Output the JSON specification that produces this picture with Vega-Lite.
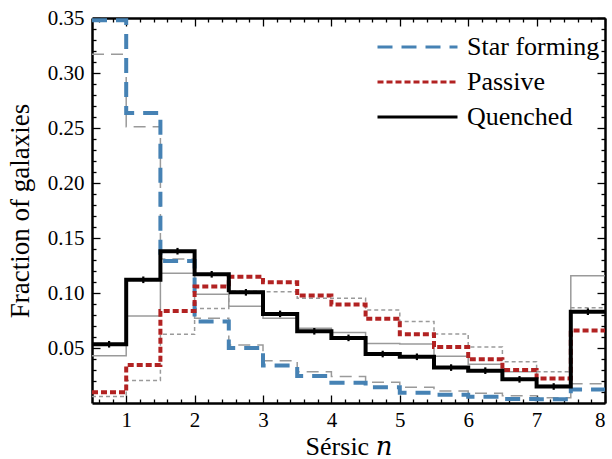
{
  "$schema": "https://vega.github.io/schema/vega-lite/v6.json",
  "width": 513,
  "height": 385,
  "autosize": {"type": "none"},
  "padding": {"left": 92, "top": 18, "right": 7, "bottom": 56},
  "background": "white",
  "config": {
    "view": {"stroke": null},
    "font": "Liberation Serif",
    "style": {
      "guide-label": {"font": "Liberation Serif", "fontSize": 21, "fill": "black"},
      "guide-title": {"font": "Liberation Serif, DejaVu Serif", "fontSize": 26, "fontWeight": "normal", "fill": "black"}
    },
    "axis": {
      "grid": false,
      "domainColor": "black",
      "domainWidth": 2.5,
      "tickColor": "black",
      "tickWidth": 1.3,
      "labelColor": "black",
      "titleColor": "black",
      "labelFont": "Liberation Serif",
      "titleFont": "Liberation Serif, DejaVu Serif",
      "titleFontWeight": "normal",
      "labelFontSize": 21,
      "titleFontSize": 26
    },
    "legend": {
      "labelFont": "Liberation Serif",
      "labelFontSize": 26,
      "labelColor": "black"
    }
  },
  "datasets": {
    "hist": [
      {"s": "Star forming", "set": "main", "lo": 0.5, "hi": 1.0, "f": 0.348},
      {"s": "Star forming", "set": "main", "lo": 1.0, "hi": 1.5, "f": 0.2636},
      {"s": "Star forming", "set": "main", "lo": 1.5, "hi": 2.0, "f": 0.129},
      {"s": "Star forming", "set": "main", "lo": 2.0, "hi": 2.5, "f": 0.074},
      {"s": "Star forming", "set": "main", "lo": 2.5, "hi": 3.0, "f": 0.050},
      {"s": "Star forming", "set": "main", "lo": 3.0, "hi": 3.5, "f": 0.034},
      {"s": "Star forming", "set": "main", "lo": 3.5, "hi": 4.0, "f": 0.0245},
      {"s": "Star forming", "set": "main", "lo": 4.0, "hi": 4.5, "f": 0.0185},
      {"s": "Star forming", "set": "main", "lo": 4.5, "hi": 5.0, "f": 0.0143},
      {"s": "Star forming", "set": "main", "lo": 5.0, "hi": 5.5, "f": 0.0094},
      {"s": "Star forming", "set": "main", "lo": 5.5, "hi": 6.0, "f": 0.0076},
      {"s": "Star forming", "set": "main", "lo": 6.0, "hi": 6.5, "f": 0.0057},
      {"s": "Star forming", "set": "main", "lo": 6.5, "hi": 7.0, "f": 0.0036},
      {"s": "Star forming", "set": "main", "lo": 7.0, "hi": 7.5, "f": 0.0033},
      {"s": "Star forming", "set": "main", "lo": 7.5, "hi": 8.0, "f": 0.0122},

      {"s": "Passive", "set": "main", "lo": 0.5, "hi": 1.0, "f": 0.0097},
      {"s": "Passive", "set": "main", "lo": 1.0, "hi": 1.5, "f": 0.0345},
      {"s": "Passive", "set": "main", "lo": 1.5, "hi": 2.0, "f": 0.0836},
      {"s": "Passive", "set": "main", "lo": 2.0, "hi": 2.5, "f": 0.1058},
      {"s": "Passive", "set": "main", "lo": 2.5, "hi": 3.0, "f": 0.1148},
      {"s": "Passive", "set": "main", "lo": 3.0, "hi": 3.5, "f": 0.1097},
      {"s": "Passive", "set": "main", "lo": 3.5, "hi": 4.0, "f": 0.0978},
      {"s": "Passive", "set": "main", "lo": 4.0, "hi": 4.5, "f": 0.0895},
      {"s": "Passive", "set": "main", "lo": 4.5, "hi": 5.0, "f": 0.0765},
      {"s": "Passive", "set": "main", "lo": 5.0, "hi": 5.5, "f": 0.0625},
      {"s": "Passive", "set": "main", "lo": 5.5, "hi": 6.0, "f": 0.051},
      {"s": "Passive", "set": "main", "lo": 6.0, "hi": 6.5, "f": 0.0397},
      {"s": "Passive", "set": "main", "lo": 6.5, "hi": 7.0, "f": 0.030},
      {"s": "Passive", "set": "main", "lo": 7.0, "hi": 7.5, "f": 0.0222},
      {"s": "Passive", "set": "main", "lo": 7.5, "hi": 8.0, "f": 0.0658},

      {"s": "Quenched", "set": "main", "lo": 0.5, "hi": 1.0, "f": 0.0534},
      {"s": "Quenched", "set": "main", "lo": 1.0, "hi": 1.5, "f": 0.112},
      {"s": "Quenched", "set": "main", "lo": 1.5, "hi": 2.0, "f": 0.138},
      {"s": "Quenched", "set": "main", "lo": 2.0, "hi": 2.5, "f": 0.117},
      {"s": "Quenched", "set": "main", "lo": 2.5, "hi": 3.0, "f": 0.1006},
      {"s": "Quenched", "set": "main", "lo": 3.0, "hi": 3.5, "f": 0.081},
      {"s": "Quenched", "set": "main", "lo": 3.5, "hi": 4.0, "f": 0.0652},
      {"s": "Quenched", "set": "main", "lo": 4.0, "hi": 4.5, "f": 0.0592},
      {"s": "Quenched", "set": "main", "lo": 4.5, "hi": 5.0, "f": 0.0445},
      {"s": "Quenched", "set": "main", "lo": 5.0, "hi": 5.5, "f": 0.042},
      {"s": "Quenched", "set": "main", "lo": 5.5, "hi": 6.0, "f": 0.0322},
      {"s": "Quenched", "set": "main", "lo": 6.0, "hi": 6.5, "f": 0.0294},
      {"s": "Quenched", "set": "main", "lo": 6.5, "hi": 7.0, "f": 0.0215},
      {"s": "Quenched", "set": "main", "lo": 7.0, "hi": 7.5, "f": 0.015},
      {"s": "Quenched", "set": "main", "lo": 7.5, "hi": 8.0, "f": 0.083},

      {"s": "Star forming", "set": "comparison", "lo": 0.5, "hi": 1.0, "f": 0.317},
      {"s": "Star forming", "set": "comparison", "lo": 1.0, "hi": 1.5, "f": 0.2512},
      {"s": "Star forming", "set": "comparison", "lo": 1.5, "hi": 2.0, "f": 0.131},
      {"s": "Star forming", "set": "comparison", "lo": 2.0, "hi": 2.5, "f": 0.077},
      {"s": "Star forming", "set": "comparison", "lo": 2.5, "hi": 3.0, "f": 0.0527},
      {"s": "Star forming", "set": "comparison", "lo": 3.0, "hi": 3.5, "f": 0.0385},
      {"s": "Star forming", "set": "comparison", "lo": 3.5, "hi": 4.0, "f": 0.0285},
      {"s": "Star forming", "set": "comparison", "lo": 4.0, "hi": 4.5, "f": 0.024},
      {"s": "Star forming", "set": "comparison", "lo": 4.5, "hi": 5.0, "f": 0.0188},
      {"s": "Star forming", "set": "comparison", "lo": 5.0, "hi": 5.5, "f": 0.0143},
      {"s": "Star forming", "set": "comparison", "lo": 5.5, "hi": 6.0, "f": 0.011},
      {"s": "Star forming", "set": "comparison", "lo": 6.0, "hi": 6.5, "f": 0.0088},
      {"s": "Star forming", "set": "comparison", "lo": 6.5, "hi": 7.0, "f": 0.0067},
      {"s": "Star forming", "set": "comparison", "lo": 7.0, "hi": 7.5, "f": 0.0048},
      {"s": "Star forming", "set": "comparison", "lo": 7.5, "hi": 8.0, "f": 0.0175},

      {"s": "Passive", "set": "comparison", "lo": 0.5, "hi": 1.0, "f": 0.006},
      {"s": "Passive", "set": "comparison", "lo": 1.0, "hi": 1.5, "f": 0.0205},
      {"s": "Passive", "set": "comparison", "lo": 1.5, "hi": 2.0, "f": 0.0624},
      {"s": "Passive", "set": "comparison", "lo": 2.0, "hi": 2.5, "f": 0.086},
      {"s": "Passive", "set": "comparison", "lo": 2.5, "hi": 3.0, "f": 0.1015},
      {"s": "Passive", "set": "comparison", "lo": 3.0, "hi": 3.5, "f": 0.1012},
      {"s": "Passive", "set": "comparison", "lo": 3.5, "hi": 4.0, "f": 0.0952},
      {"s": "Passive", "set": "comparison", "lo": 4.0, "hi": 4.5, "f": 0.0952},
      {"s": "Passive", "set": "comparison", "lo": 4.5, "hi": 5.0, "f": 0.0845},
      {"s": "Passive", "set": "comparison", "lo": 5.0, "hi": 5.5, "f": 0.074},
      {"s": "Passive", "set": "comparison", "lo": 5.5, "hi": 6.0, "f": 0.0627},
      {"s": "Passive", "set": "comparison", "lo": 6.0, "hi": 6.5, "f": 0.051},
      {"s": "Passive", "set": "comparison", "lo": 6.5, "hi": 7.0, "f": 0.0376},
      {"s": "Passive", "set": "comparison", "lo": 7.0, "hi": 7.5, "f": 0.0285},
      {"s": "Passive", "set": "comparison", "lo": 7.5, "hi": 8.0, "f": 0.0867},

      {"s": "Quenched", "set": "comparison", "lo": 0.5, "hi": 1.0, "f": 0.043},
      {"s": "Quenched", "set": "comparison", "lo": 1.0, "hi": 1.5, "f": 0.079},
      {"s": "Quenched", "set": "comparison", "lo": 1.5, "hi": 2.0, "f": 0.118},
      {"s": "Quenched", "set": "comparison", "lo": 2.0, "hi": 2.5, "f": 0.0988},
      {"s": "Quenched", "set": "comparison", "lo": 2.5, "hi": 3.0, "f": 0.088},
      {"s": "Quenched", "set": "comparison", "lo": 3.0, "hi": 3.5, "f": 0.077},
      {"s": "Quenched", "set": "comparison", "lo": 3.5, "hi": 4.0, "f": 0.068},
      {"s": "Quenched", "set": "comparison", "lo": 4.0, "hi": 4.5, "f": 0.064},
      {"s": "Quenched", "set": "comparison", "lo": 4.5, "hi": 5.0, "f": 0.0542},
      {"s": "Quenched", "set": "comparison", "lo": 5.0, "hi": 5.5, "f": 0.0536},
      {"s": "Quenched", "set": "comparison", "lo": 5.5, "hi": 6.0, "f": 0.0425},
      {"s": "Quenched", "set": "comparison", "lo": 6.0, "hi": 6.5, "f": 0.0352},
      {"s": "Quenched", "set": "comparison", "lo": 6.5, "hi": 7.0, "f": 0.0285},
      {"s": "Quenched", "set": "comparison", "lo": 7.0, "hi": 7.5, "f": 0.016},
      {"s": "Quenched", "set": "comparison", "lo": 7.5, "hi": 8.0, "f": 0.1157}
    ],
    "quenched_err": [
      {"n": 0.75, "f_lo": 0.0504, "f_hi": 0.0564},
      {"n": 1.25, "f_lo": 0.109, "f_hi": 0.115},
      {"n": 1.75, "f_lo": 0.135, "f_hi": 0.141},
      {"n": 2.25, "f_lo": 0.114, "f_hi": 0.120},
      {"n": 2.75, "f_lo": 0.0976, "f_hi": 0.1036},
      {"n": 3.25, "f_lo": 0.078, "f_hi": 0.084},
      {"n": 3.75, "f_lo": 0.0622, "f_hi": 0.0682},
      {"n": 4.25, "f_lo": 0.0562, "f_hi": 0.0622},
      {"n": 4.75, "f_lo": 0.0415, "f_hi": 0.0475},
      {"n": 5.25, "f_lo": 0.039, "f_hi": 0.045},
      {"n": 5.75, "f_lo": 0.0292, "f_hi": 0.0352},
      {"n": 6.25, "f_lo": 0.0264, "f_hi": 0.0324},
      {"n": 6.75, "f_lo": 0.0185, "f_hi": 0.0245},
      {"n": 7.25, "f_lo": 0.012, "f_hi": 0.018},
      {"n": 7.75, "f_lo": 0.080, "f_hi": 0.086}
    ]
  },
  "layer": [
    {
      "data": {"name": "hist"},
      "transform": [
        {"filter": "datum.set === 'comparison' && datum.s === 'Quenched'"},
        {"fold": ["lo", "hi"], "as": ["edge", "n"]}
      ],
      "mark": {"type": "line", "color": "#9a9a9a", "strokeWidth": 1.5, "clip": true},
      "encoding": {
        "x": {"field": "n", "type": "quantitative",
              "scale": {"domain": [0.5, 8], "nice": false, "zero": false},
              "axis": {"orient": "top", "values": [1, 2, 3, 4, 5, 6, 7, 8], "labels": false, "title": null, "tickSize": -8}},
        "y": {"field": "f", "type": "quantitative",
              "scale": {"domain": [0, 0.35], "nice": false, "zero": false},
              "axis": {"orient": "right", "values": [0.05, 0.1, 0.15, 0.2, 0.25, 0.3, 0.35], "labels": false, "title": null, "tickSize": -8}},
        "order": [{"field": "n", "type": "quantitative"}, {"field": "edge", "type": "ordinal"}]
      }
    },
    {
      "data": {"name": "hist"},
      "transform": [
        {"filter": "datum.set === 'comparison' && datum.s === 'Star forming'"},
        {"fold": ["lo", "hi"], "as": ["edge", "n"]}
      ],
      "mark": {"type": "line", "color": "#9a9a9a", "strokeWidth": 1.5, "strokeDash": [12, 7], "clip": true},
      "encoding": {
        "x": {"field": "n", "type": "quantitative",
              "scale": {"domain": [0.5, 8], "nice": false, "zero": false},
              "axis": {"orient": "top", "values": [0.6, 0.8, 1.2, 1.4, 1.6, 1.8, 2.2, 2.4, 2.6, 2.8, 3.2, 3.4, 3.6, 3.8, 4.2, 4.4, 4.6, 4.8, 5.2, 5.4, 5.6, 5.8, 6.2, 6.4, 6.6, 6.8, 7.2, 7.4, 7.6, 7.8], "labels": false, "title": null, "tickSize": -4, "domain": false}},
        "y": {"field": "f", "type": "quantitative",
              "scale": {"domain": [0, 0.35], "nice": false, "zero": false},
              "axis": {"orient": "right", "values": [0.01, 0.02, 0.03, 0.04, 0.06, 0.07, 0.08, 0.09, 0.11, 0.12, 0.13, 0.14, 0.16, 0.17, 0.18, 0.19, 0.21, 0.22, 0.23, 0.24, 0.26, 0.27, 0.28, 0.29, 0.31, 0.32, 0.33, 0.34], "labels": false, "title": null, "tickSize": -4, "domain": false}},
        "order": [{"field": "n", "type": "quantitative"}, {"field": "edge", "type": "ordinal"}]
      }
    },
    {
      "data": {"name": "hist"},
      "transform": [
        {"filter": "datum.set === 'comparison' && datum.s === 'Passive'"},
        {"fold": ["lo", "hi"], "as": ["edge", "n"]}
      ],
      "mark": {"type": "line", "color": "#9a9a9a", "strokeWidth": 1.5, "strokeDash": [4, 3], "clip": true},
      "encoding": {
        "x": {"field": "n", "type": "quantitative",
              "scale": {"domain": [0.5, 8], "nice": false, "zero": false},
              "axis": {"orient": "bottom", "values": [0.6, 0.8, 1.2, 1.4, 1.6, 1.8, 2.2, 2.4, 2.6, 2.8, 3.2, 3.4, 3.6, 3.8, 4.2, 4.4, 4.6, 4.8, 5.2, 5.4, 5.6, 5.8, 6.2, 6.4, 6.6, 6.8, 7.2, 7.4, 7.6, 7.8], "labels": false, "title": null, "tickSize": -4, "domain": false}},
        "y": {"field": "f", "type": "quantitative",
              "scale": {"domain": [0, 0.35], "nice": false, "zero": false},
              "axis": {"orient": "left", "values": [0.01, 0.02, 0.03, 0.04, 0.06, 0.07, 0.08, 0.09, 0.11, 0.12, 0.13, 0.14, 0.16, 0.17, 0.18, 0.19, 0.21, 0.22, 0.23, 0.24, 0.26, 0.27, 0.28, 0.29, 0.31, 0.32, 0.33, 0.34], "labels": false, "title": null, "tickSize": -4, "domain": false}},
        "order": [{"field": "n", "type": "quantitative"}, {"field": "edge", "type": "ordinal"}]
      }
    },
    {
      "data": {"name": "hist"},
      "transform": [
        {"filter": "datum.set === 'main'"},
        {"fold": ["lo", "hi"], "as": ["edge", "n"]}
      ],
      "mark": {"type": "line", "strokeWidth": 4, "clip": true},
      "encoding": {
        "x": {"field": "n", "type": "quantitative",
              "scale": {"domain": [0.5, 8], "nice": false, "zero": false},
              "axis": {"orient": "bottom", "values": [1, 2, 3, 4, 5, 6, 7, 8], "title": "Sérsic 𝑛", "tickSize": -8,
                       "labelFont": "Liberation Serif", "labelFontSize": 21, "labelPadding": 14, "titlePadding": 3,
                       "titleFont": "Liberation Serif, DejaVu Serif"}},
        "y": {"field": "f", "type": "quantitative",
              "scale": {"domain": [0, 0.35], "nice": false, "zero": false},
              "axis": {"orient": "left", "values": [0.05, 0.1, 0.15, 0.2, 0.25, 0.3, 0.35], "format": ".2f", "title": "Fraction of galaxies", "tickSize": -8,
                       "labelFont": "Liberation Serif", "labelFontSize": 21, "labelPadding": 16, "titlePadding": 13, "titleFontSize": 27}},
        "color": {"field": "s", "type": "nominal",
                  "scale": {"domain": ["Star forming", "Passive", "Quenched"], "range": ["#4682b4", "#b22222", "#000000"]},
                  "legend": {"title": null, "orient": "none", "legendX": 284, "legendY": 13, "padding": 0,
                             "symbolType": "stroke", "symbolSize": 6400, "symbolStrokeWidth": 3,
                             "clipHeight": 32, "rowPadding": 3, "labelOffset": 8}},
        "strokeDash": {"field": "s", "type": "nominal",
                       "scale": {"domain": ["Star forming", "Passive", "Quenched"], "range": [[15, 9], [6, 3], [1, 0]]},
                       "legend": {"title": null, "orient": "none", "legendX": 284, "legendY": 13, "padding": 0,
                                  "symbolType": "stroke", "symbolSize": 6400, "symbolStrokeWidth": 3,
                                  "clipHeight": 32, "rowPadding": 3, "labelOffset": 8}},
        "order": [{"field": "n", "type": "quantitative"}, {"field": "edge", "type": "ordinal"}]
      }
    },
    {
      "data": {"name": "quenched_err"},
      "mark": {"type": "rule", "color": "black", "strokeWidth": 2.2, "clip": true},
      "encoding": {
        "x": {"field": "n", "type": "quantitative", "scale": {"domain": [0.5, 8], "nice": false, "zero": false}, "axis": null},
        "y": {"field": "f_lo", "type": "quantitative", "scale": {"domain": [0, 0.35], "nice": false, "zero": false}, "axis": null},
        "y2": {"field": "f_hi"}
      }
    }
  ],
  "resolve": {"axis": {"x": "independent", "y": "independent"}}
}
